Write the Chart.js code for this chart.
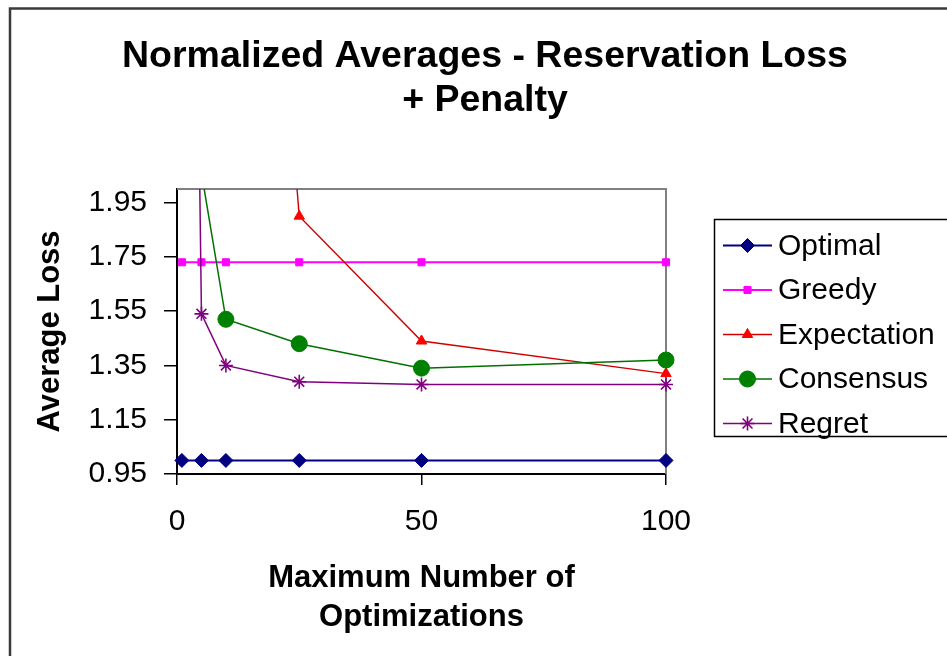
<!DOCTYPE html>
<html>
<head>
<meta charset="utf-8">
<script src="https://cdn.jsdelivr.net/npm/chart.js@4.4.1/dist/chart.umd.min.js"></script>
<style>
  html, body { margin: 0; padding: 0; background: #ffffff; }
  #wrap { width: 947px; height: 656px; }
</style>
</head>
<body>
<div id="wrap"><canvas id="c" width="947" height="656"></canvas></div>
<script>
// x values: maximum number of optimizations
const maxOptimizations = [1, 5, 10, 25, 50, 100];

// normalized average loss per strategy (null = no point)
const optimal     = [1.00, 1.00, 1.00, 1.00, 1.00, 1.00];
const greedy      = [1.73, 1.73, 1.73, 1.73, 1.73, 1.73];
const expectation = [null, null, 5.20, 1.90, 1.44, 1.32];
const consensus   = [null, 2.06, 1.52, 1.43, 1.34, 1.37];
const regret      = [7.00, 1.54, 1.35, 1.29, 1.28, 1.28];

const seriesNames = ['Optimal', 'Greedy', 'Expectation', 'Consensus', 'Regret'];
const yTickValues = [0.95, 1.15, 1.35, 1.55, 1.75, 1.95];
const xTickValues = [0, 50, 100];
const titleLines = ['Normalized Averages - Reservation Loss', '+ Penalty'];
const xTitleLines = ['Maximum Number of', 'Optimizations'];
const yTitle = 'Average Loss';

const FONT = "'Liberation Sans', Arial, Helvetica, sans-serif";

const styles = [
  { line: '#000080', fill: '#000080', point: 'rectRot',  radius: 7, width: 2,   pbw: 1 },
  { line: '#ff00ff', fill: '#ff00ff', point: 'rect',     radius: 5, width: 2,   pbw: 1 },
  { line: '#d00000', fill: '#ff0000', point: 'triangle', radius: 6, width: 1.4, pbw: 1 },
  { line: '#007000', fill: '#008000', point: 'circle',   radius: 8, width: 1.5, pbw: 1 },
  { line: '#800080', fill: '#800080', point: 'star',     radius: 7, width: 1.5, pbw: 1.6 }
];
const seriesValues = [optimal, greedy, expectation, consensus, regret];

const datasets = seriesValues.map((vals, i) => ({
  label: seriesNames[i],
  data: maxOptimizations.map((x, j) => ({ x: x, y: vals[j] })),
  borderColor: styles[i].line,
  backgroundColor: styles[i].fill,
  pointBackgroundColor: styles[i].fill,
  pointBorderColor: styles[i].fill,
  pointStyle: styles[i].point,
  pointRadius: styles[i].radius,
  pointBorderWidth: styles[i].pbw,
  borderWidth: styles[i].width,
  tension: 0,
  spanGaps: false,
  order: seriesValues.length - i,
  clip: { left: 14, right: 14, top: 0, bottom: 14 }
}));

// outer frame, plot-area outline, title and boxed legend
const decorations = {
  id: 'decorations',
  beforeDraw(chart) {
    const ctx = chart.ctx;
    ctx.save();
    ctx.fillStyle = '#ffffff';
    ctx.fillRect(0, 0, chart.width, chart.height);
    ctx.strokeStyle = '#3a3a3a';
    ctx.lineWidth = 2.5;
    ctx.beginPath();
    ctx.moveTo(10, chart.height + 5);
    ctx.lineTo(10, 8.5);
    ctx.lineTo(chart.width + 5, 8.5);
    ctx.stroke();
    ctx.restore();
  },
  beforeDatasetsDraw(chart) {
    const { ctx, chartArea: a } = chart;
    ctx.save();
    ctx.strokeStyle = '#808080';
    ctx.lineWidth = 2;
    ctx.beginPath();
    ctx.moveTo(a.left, a.top);
    ctx.lineTo(a.right, a.top);
    ctx.lineTo(a.right, a.bottom);
    ctx.stroke();
    ctx.restore();
  },
  afterDraw(chart) {
    const ctx = chart.ctx;
    ctx.save();
    // title
    ctx.fillStyle = '#000000';
    ctx.font = "bold 37.5px " + FONT;
    ctx.textAlign = 'center';
    ctx.textBaseline = 'alphabetic';
    ctx.fillText(titleLines[0], 485, 67);
    ctx.fillText(titleLines[1], 485, 111);

    // legend box
    ctx.strokeStyle = '#000000';
    ctx.lineWidth = 1.5;
    ctx.strokeRect(714.5, 219.5, 260, 217);

    const rowY = [245.5, 290, 334.5, 379, 423.5];
    chart.data.datasets.forEach((ds, i) => {
      const y = rowY[i];
      ctx.strokeStyle = ds.borderColor;
      ctx.lineWidth = ds.borderWidth;
      ctx.beginPath();
      ctx.moveTo(723, y);
      ctx.lineTo(772, y);
      ctx.stroke();
      ctx.fillStyle = ds.pointBackgroundColor;
      ctx.strokeStyle = ds.pointBorderColor;
      ctx.lineWidth = ds.pointBorderWidth;
      Chart.helpers.drawPoint(ctx, {
        pointStyle: ds.pointStyle, radius: ds.pointRadius,
        borderWidth: ds.pointBorderWidth, rotation: 0
      }, 747.5, y);
      ctx.fillStyle = '#000000';
      ctx.font = "30px " + FONT;
      ctx.textAlign = 'left';
      ctx.textBaseline = 'middle';
      ctx.fillText(ds.label, 778, y + 1);
    });
    ctx.restore();
  }
};

new Chart(document.getElementById('c'), {
  type: 'line',
  data: { datasets: datasets },
  plugins: [decorations],
  options: {
    responsive: false,
    animation: false,
    events: [],
    layout: { padding: { left: 0, top: 189, right: 281, bottom: 0 } },
    plugins: {
      legend: { display: false },
      title: { display: false },
      tooltip: { enabled: false }
    },
    scales: {
      x: {
        type: 'linear',
        min: 0,
        max: 100,
        afterBuildTicks: (s) => { s.ticks = xTickValues.map(v => ({ value: v })); },
        afterFit: (s) => { s.height = 182; },
        ticks: {
          color: '#000000',
          font: { family: FONT, size: 30 },
          padding: 19,
          maxRotation: 0,
          autoSkip: false
        },
        grid: {
          display: true,
          drawOnChartArea: false,
          drawTicks: true,
          tickLength: 11,
          color: '#000000',
          lineWidth: 1.5
        },
        border: { display: true, color: '#000000', width: 2 },
        title: {
          display: true,
          text: xTitleLines,
          color: '#000000',
          font: { family: FONT, size: 31, weight: 'bold', lineHeight: 1.25 },
          padding: { top: 0, bottom: 19.5 }
        }
      },
      y: {
        type: 'linear',
        min: 0.95,
        max: 2.0,
        afterBuildTicks: (s) => { s.ticks = yTickValues.map(v => ({ value: v })); },
        afterFit: (s) => { s.width = 177; },
        ticks: {
          color: '#000000',
          font: { family: FONT, size: 30 },
          padding: 17,
          callback: (v) => Number(v).toFixed(2)
        },
        grid: {
          display: true,
          drawOnChartArea: false,
          drawTicks: true,
          tickLength: 13,
          color: '#000000',
          lineWidth: 1.5
        },
        border: { display: true, color: '#000000', width: 2 },
        title: {
          display: true,
          text: yTitle,
          color: '#000000',
          font: { family: FONT, size: 31, weight: 'bold', lineHeight: 1.2 },
          padding: { top: 31.4, bottom: 0 }
        }
      }
    }
  }
});
</script>
</body>
</html>
